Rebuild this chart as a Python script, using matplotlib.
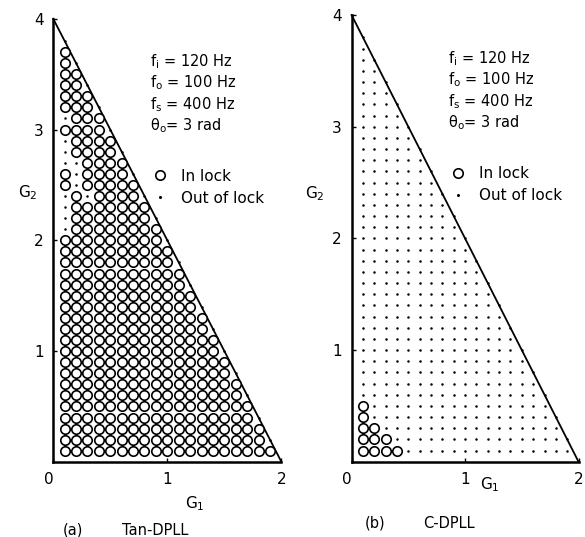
import numpy as np
import matplotlib.pyplot as plt

# grid of tested gain pairs: one row per G2 value, G1 runs 0.1 .. last value of the row
g2_rows = [0.1, 0.2, 0.3, 0.4, 0.5, 0.6, 0.7, 0.8, 0.9, 1.0,
           1.1, 1.2, 1.3, 1.4, 1.5, 1.6, 1.7, 1.8, 1.9, 2.0,
           2.1, 2.2, 2.3, 2.4, 2.5, 2.6, 2.7, 2.8, 2.9, 3.0,
           3.1, 3.2, 3.3, 3.4, 3.5, 3.6, 3.7, 3.8]
g1_last = [1.9, 1.9, 1.8, 1.8, 1.7, 1.7, 1.6, 1.6, 1.5, 1.5,
           1.4, 1.4, 1.3, 1.3, 1.2, 1.2, 1.1, 1.1, 1.0, 1.0,
           0.9, 0.9, 0.8, 0.8, 0.7, 0.7, 0.6, 0.6, 0.5, 0.5,
           0.4, 0.4, 0.3, 0.3, 0.2, 0.2, 0.1, 0.1]

# stability boundary G2 = 4 - 2*G1
edge_g1 = [0, 2]
edge_g2 = [4, 0]

# (a) Tan-DPLL: points inside the triangle that failed to lock
tan_out_g1 = [0.1, 0.1, 0.1, 0.1, 0.2, 0.2, 0.2, 0.1, 0.3, 0.1, 0.1, 0.1]
tan_out_g2 = [3.1, 2.9, 2.8, 2.7, 2.7, 2.6, 2.5, 2.4, 2.4, 2.3, 2.2, 2.1]

# (b) C-DPLL: the only points that locked
c_in_g1 = [0.1, 0.2, 0.3, 0.4, 0.1, 0.2, 0.3, 0.1, 0.2, 0.1, 0.1]
c_in_g2 = [0.1, 0.1, 0.1, 0.1, 0.2, 0.2, 0.2, 0.3, 0.3, 0.4, 0.5]

params = [r'f$_\mathrm{i}$ = 120 Hz', r'f$_\mathrm{o}$ = 100 Hz',
          r'f$_\mathrm{s}$ = 400 Hz', r'θ$_\mathrm{o}$= 3 rad']


def grid_points():
    pts = []
    for g2, last in zip(g2_rows, g1_last):
        for i in range(1, int(round(last * 10)) + 1):
            pts.append((round(i / 10, 1), g2))
    return pts


def split(pts, lock_fn):
    lock = [p for p in pts if lock_fn(p)]
    out = [p for p in pts if not lock_fn(p)]
    return np.array(lock).reshape(-1, 2), np.array(out).reshape(-1, 2)


pts = grid_points()
tan_out = set(zip(tan_out_g1, tan_out_g2))
c_in = set(zip(c_in_g1, c_in_g2))


def on_edge(p):
    return abs(2 * p[0] + p[1] - 4) < 1e-6


tan_lock, tan_unlock = split(pts, lambda p: (not on_edge(p)) and p not in tan_out)
c_lock, c_unlock = split(pts, lambda p: p in c_in)

plt.rcParams['font.family'] = 'DejaVu Sans'
fig = plt.figure(figsize=(5.85, 5.37), dpi=100)
ax_a = fig.add_axes([0.091, 0.140, 0.390, 0.825])
ax_b = fig.add_axes([0.601, 0.140, 0.388, 0.832])

circ = dict(marker='o', ls='none', ms=6.8, mfc='white', mec='black', mew=1.2)
dot = dict(marker='o', ls='none', ms=1.8, mfc='black', mec='black', mew=0)

for ax, lock, unlock in [(ax_a, tan_lock, tan_unlock), (ax_b, c_lock, c_unlock)]:
    ax.plot(edge_g1, edge_g2, color='black', lw=1.3, clip_on=False)
    ax.plot(unlock[:, 0], unlock[:, 1], clip_on=False, **dot)
    ax.plot(lock[:, 0], lock[:, 1], clip_on=False, **circ)
    ax.set_xlim(0, 2)
    ax.set_ylim(0, 4)
    ax.spines['top'].set_visible(False)
    ax.spines['right'].set_visible(False)
    ax.spines['left'].set_linewidth(1.8)
    ax.spines['bottom'].set_linewidth(1.8)
    ax.set_xticks([0, 1, 2])
    ax.set_xticklabels(['0', '1', '2'])
    ax.get_xticklabels()[0].set_horizontalalignment('right')
    ax.set_yticks([1, 2, 3, 4])
    ax.tick_params(direction='in', length=3, width=1, labelsize=11, pad=7)
    for k, s in enumerate(params):
        ax.text(0.425, 0.903 - k * 0.048, s, transform=ax.transAxes,
                fontsize=10.5, va='center', ha='left')
    h1, = ax.plot([], [], **circ)
    h2, = ax.plot([], [], marker='o', ls='none', ms=2.2, mfc='black', mec='black', mew=0)
    ax.legend([h1, h2], ['In lock', 'Out of lock'], loc='center left',
              bbox_to_anchor=(0.40, 0.62), frameon=False, fontsize=11,
              handlelength=1.0, handletextpad=0.9, labelspacing=0.45,
              borderpad=0)

ax_a.text(-0.11, 0.607, r'G$_\mathrm{2}$', transform=ax_a.transAxes,
          fontsize=11, ha='center', va='center')
ax_b.text(-0.16, 0.600, r'G$_\mathrm{2}$', transform=ax_b.transAxes,
          fontsize=11, ha='center', va='center')
ax_a.text(0.62, -0.095, r'G$_\mathrm{1}$', transform=ax_a.transAxes,
          fontsize=11, ha='center', va='center')
ax_b.text(0.61, -0.05, r'G$_\mathrm{1}$', transform=ax_b.transAxes,
          fontsize=11, ha='center', va='center')

fig.text(0.108, 0.013, '(a)', fontsize=10.5, va='center')
fig.text(0.209, 0.013, 'Tan-DPLL', fontsize=10.5, va='center')
fig.text(0.624, 0.026, '(b)', fontsize=10.5, va='center')
fig.text(0.723, 0.026, 'C-DPLL', fontsize=10.5, va='center')

fig.savefig('out.png', dpi=100)
